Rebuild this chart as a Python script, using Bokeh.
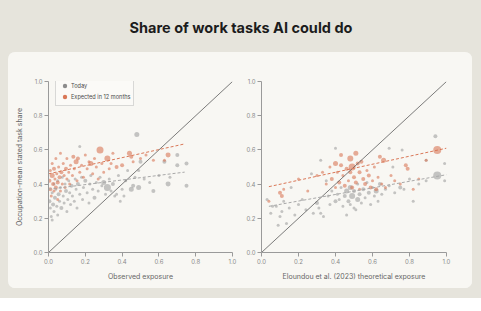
from bokeh.plotting import figure
from bokeh.layouts import row, column
from bokeh.models import (Range1d, Label, Legend, LegendItem, Spacer, FixedTicker)
from bokeh.embed import file_html
from bokeh.resources import INLINE

# ---------------------------------------------------------------- data
TITLE = "Share of work tasks AI could do"
Y_LABEL = "Occupation-mean stated task share"
X_LABEL_LEFT = "Observed exposure"
X_LABEL_RIGHT = "Eloundou et al. (2023) theoretical exposure"
SERIES = ["Today", "Expected in 12 months"]
TICKS = [0.0, 0.2, 0.4, 0.6, 0.8, 1.0]
TICK_LABELS = ["0.0", "0.2", "0.4", "0.6", "0.8", "1.0"]

# observed exposure panel: today
obs_today_x = [0.005, 0.01, 0.015, 0.02, 0.02, 0.025, 0.03, 0.03, 0.035, 0.04, 0.045, 0.05, 0.05,
               0.055, 0.06, 0.065, 0.07, 0.075, 0.08, 0.085, 0.09, 0.095, 0.10, 0.105, 0.11, 0.115,
               0.12, 0.125, 0.13, 0.14, 0.145, 0.15, 0.155, 0.16, 0.17, 0.17, 0.18, 0.185, 0.19,
               0.20, 0.21, 0.22, 0.225, 0.23, 0.24, 0.25, 0.26, 0.27, 0.28, 0.29, 0.30, 0.31, 0.32,
               0.33, 0.34, 0.35, 0.36, 0.37, 0.38, 0.39, 0.40, 0.41, 0.42, 0.43, 0.45, 0.46, 0.47,
               0.48, 0.49, 0.49, 0.50, 0.52, 0.55, 0.57, 0.60, 0.63, 0.65, 0.66, 0.70, 0.70, 0.75, 0.75]
obs_today_y = [0.30, 0.26, 0.21, 0.35, 0.19, 0.28, 0.40, 0.24, 0.32, 0.37, 0.27, 0.42, 0.22,
               0.34, 0.30, 0.38, 0.26, 0.44, 0.33, 0.29, 0.40, 0.36, 0.24, 0.31, 0.42, 0.35,
               0.28, 0.39, 0.33, 0.30, 0.43, 0.37, 0.26, 0.40, 0.34, 0.62, 0.44, 0.31, 0.38,
               0.42, 0.35, 0.29, 0.40, 0.45, 0.37, 0.32, 0.41, 0.36, 0.44, 0.39, 0.41, 0.34, 0.38,
               0.43, 0.36, 0.40, 0.33, 0.34, 0.45, 0.30, 0.37, 0.33, 0.42, 0.48, 0.37, 0.39, 0.44,
               0.69, 0.38, 0.48, 0.53, 0.43, 0.41, 0.36, 0.45, 0.53, 0.40, 0.44, 0.57, 0.51, 0.52, 0.39]
obs_today_size = [4, 3, 3, 3, 3, 4, 3, 3, 4, 3, 3, 3, 3,
                  4, 3, 3, 4, 3, 3, 3, 3, 4, 3, 3, 3, 3,
                  3, 4, 3, 3, 3, 3, 3, 4, 3, 3, 3, 3, 3,
                  4, 3, 3, 3, 3, 3, 4, 3, 3, 3, 3, 5, 3, 7,
                  3, 3, 4, 3, 3, 3, 3, 3, 3, 3, 3, 5, 4, 3,
                  5, 5, 3, 4, 3, 3, 4, 3, 4, 5, 3, 4, 4, 4, 4]

# observed exposure panel: expected in 12 months
obs_exp_x = [0.005, 0.01, 0.01, 0.015, 0.02, 0.02, 0.025, 0.03, 0.03, 0.035, 0.04, 0.04, 0.045,
             0.05, 0.05, 0.055, 0.06, 0.065, 0.065, 0.07, 0.075, 0.08, 0.085, 0.09, 0.095, 0.10,
             0.10, 0.11, 0.115, 0.12, 0.13, 0.135, 0.14, 0.15, 0.155, 0.16, 0.17, 0.18, 0.19,
             0.20, 0.21, 0.22, 0.23, 0.24, 0.25, 0.26, 0.27, 0.28, 0.29, 0.30, 0.32, 0.33, 0.34,
             0.35, 0.37, 0.40, 0.44, 0.45, 0.46, 0.50, 0.53, 0.57, 0.63, 0.65]
obs_exp_y = [0.42, 0.37, 0.48, 0.33, 0.45, 0.52, 0.40, 0.36, 0.49, 0.43, 0.55, 0.38, 0.46,
             0.41, 0.31, 0.50, 0.44, 0.58, 0.36, 0.47, 0.40, 0.52, 0.45, 0.38, 0.49, 0.43,
             0.55, 0.47, 0.40, 0.51, 0.45, 0.56, 0.49, 0.53, 0.42, 0.55, 0.47, 0.51, 0.44,
             0.57, 0.49, 0.53, 0.52, 0.46, 0.55, 0.50, 0.43, 0.60, 0.52, 0.47, 0.55, 0.49, 0.52,
             0.58, 0.50, 0.51, 0.58, 0.56, 0.53, 0.55, 0.57, 0.54, 0.54, 0.57]
obs_exp_size = [4, 4, 3, 3, 5, 3, 4, 3, 4, 3, 3, 4, 3,
                4, 3, 3, 4, 3, 3, 4, 3, 3, 3, 3, 4, 3,
                3, 3, 3, 3, 3, 4, 3, 5, 3, 4, 3, 3, 3,
                3, 3, 3, 5, 3, 3, 3, 3, 7, 3, 3, 6, 3, 3,
                3, 4, 4, 5, 4, 3, 3, 3, 3, 3, 5]

# theoretical exposure panel: today
theo_today_x = [0.03, 0.05, 0.06, 0.08, 0.09, 0.10, 0.11, 0.12, 0.135, 0.15, 0.16, 0.18, 0.20,
                0.22, 0.24, 0.27, 0.28, 0.30, 0.31, 0.32, 0.32, 0.335, 0.35, 0.36, 0.37, 0.38,
                0.40, 0.40, 0.41, 0.42, 0.43, 0.44, 0.45, 0.46, 0.46, 0.47, 0.48, 0.48, 0.49,
                0.50, 0.50, 0.51, 0.52, 0.52, 0.53, 0.54, 0.55, 0.56, 0.57, 0.58, 0.59, 0.60,
                0.61, 0.62, 0.63, 0.64, 0.65, 0.67, 0.69, 0.69, 0.71, 0.72, 0.75, 0.76, 0.77,
                0.80, 0.82, 0.85, 0.89, 0.89, 0.94, 0.95, 0.99, 0.99]
theo_today_y = [0.31, 0.23, 0.27, 0.27, 0.16, 0.21, 0.24, 0.30, 0.17, 0.26, 0.38, 0.22, 0.28,
                0.31, 0.25, 0.46, 0.23, 0.29, 0.26, 0.54, 0.23, 0.21, 0.42, 0.33, 0.28, 0.36,
                0.61, 0.30, 0.34, 0.31, 0.38, 0.27, 0.33, 0.22, 0.36, 0.30, 0.28, 0.38, 0.33,
                0.36, 0.26, 0.25, 0.31, 0.40, 0.34, 0.29, 0.37, 0.32, 0.41, 0.35, 0.28, 0.38,
                0.33, 0.36, 0.30, 0.40, 0.34, 0.37, 0.61, 0.39, 0.50, 0.35, 0.38, 0.60, 0.37,
                0.43, 0.30, 0.40, 0.54, 0.42, 0.68, 0.45, 0.52, 0.42]
theo_today_size = [3, 3, 3, 3, 3, 3, 3, 3, 3, 3, 3, 3, 3,
                   3, 3, 3, 3, 4, 3, 3, 3, 3, 3, 3, 3, 3,
                   3, 4, 3, 3, 3, 3, 4, 3, 5, 4, 3, 5, 6,
                   4, 3, 3, 5, 3, 4, 3, 4, 3, 3, 4, 3, 3,
                   3, 5, 3, 4, 3, 3, 3, 3, 3, 3, 4, 3, 3,
                   3, 3, 3, 3, 3, 4, 8, 3, 3]

# theoretical exposure panel: expected in 12 months
theo_exp_x = [0.04, 0.10, 0.11, 0.12, 0.20, 0.25, 0.30, 0.33, 0.35, 0.37, 0.38, 0.40, 0.40,
              0.41, 0.42, 0.43, 0.43, 0.44, 0.45, 0.46, 0.47, 0.48, 0.48, 0.49, 0.49, 0.50,
              0.51, 0.51, 0.52, 0.53, 0.53, 0.54, 0.55, 0.56, 0.57, 0.58, 0.59, 0.60, 0.61,
              0.62, 0.63, 0.64, 0.65, 0.66, 0.67, 0.70, 0.72, 0.75, 0.78, 0.79, 0.82, 0.85,
              0.89, 0.95]
theo_exp_y = [0.30, 0.35, 0.33, 0.37, 0.43, 0.36, 0.45, 0.47, 0.40, 0.50, 0.43, 0.52, 0.38,
              0.47, 0.41, 0.57, 0.51, 0.45, 0.39, 0.49, 0.42, 0.55, 0.47, 0.50, 0.38, 0.44,
              0.58, 0.41, 0.52, 0.47, 0.37, 0.53, 0.43, 0.40, 0.48, 0.45, 0.38, 0.42, 0.50,
              0.37, 0.44, 0.56, 0.40, 0.54, 0.38, 0.45, 0.42, 0.40, 0.51, 0.49, 0.37, 0.43,
              0.54, 0.60]
theo_exp_size = [3, 4, 4, 3, 3, 3, 3, 3, 3, 3, 4, 5, 3,
                 3, 4, 4, 4, 3, 4, 4, 3, 6, 4, 7, 4, 4,
                 5, 4, 4, 4, 3, 4, 4, 4, 3, 4, 4, 3, 3,
                 4, 3, 4, 3, 5, 3, 3, 3, 3, 4, 4, 3, 3,
                 3, 8]

# fitted trend lines (end points) and the y = x reference
obs_trend_x = [0.0, 0.74]
obs_trend_today = [0.37, 0.47]
obs_trend_exp = [0.46, 0.635]
theo_trend_x = [0.04, 1.0]
theo_trend_today = [0.27, 0.455]
theo_trend_exp = [0.385, 0.61]
diagonal = [0.0, 1.0]

# ---------------------------------------------------------------- style
PAGE_BG = "#e6e4dc"
CARD_BG = "#f8f7f3"
GREY = "#a0a0a0"
ORANGE = "#d97757"
FONT = "Inter"


def panel(width, left, right, x_label, today, expected, trend, show_ylabel):
    p = figure(width=width, height=236, output_backend="svg", toolbar_location=None,
               x_range=Range1d(0, 1), y_range=Range1d(0, 1),
               min_border_left=left, min_border_right=right,
               min_border_top=29, min_border_bottom=36,
               background_fill_color=CARD_BG, border_fill_color=CARD_BG,
               outline_line_color=None)
    p.grid.visible = False
    for ax in (p.xaxis[0], p.yaxis[0]):
        ax.ticker = FixedTicker(ticks=TICKS)
        ax.major_label_overrides = dict(zip(TICKS, TICK_LABELS))
        ax.minor_tick_line_color = None
        ax.major_tick_in = 0
        ax.major_tick_out = 4
        ax.axis_line_color = "#9a9a9a"
        ax.major_tick_line_color = "#9a9a9a"
        ax.major_label_text_font = FONT
        ax.major_label_text_font_size = "6px"
        ax.major_label_text_color = "#8a8a8a"
        ax.major_label_standoff = 2
        ax.axis_label_text_font = FONT
        ax.axis_label_text_font_size = "7px"
        ax.axis_label_text_font_style = "normal"
        ax.axis_label_text_color = "#666666"
    p.xaxis.axis_label = x_label
    p.xaxis.axis_label_standoff = 5
    if show_ylabel:
        p.yaxis.axis_label = Y_LABEL
        p.yaxis.axis_label_standoff = 6

    tx, ty, ts = today
    ex, ey, es = expected
    p.scatter(tx, ty, size=ts, marker="circle", fill_color=GREY, fill_alpha=0.6,
              line_color=None)
    p.scatter(ex, ey, size=es, marker="circle", fill_color=ORANGE, fill_alpha=0.6,
              line_color=None)

    trx, tr_today, tr_exp = trend
    p.line(diagonal, diagonal, line_color="#5a5a5a", line_width=0.8)
    p.line(trx, tr_exp, line_color=ORANGE, line_width=1, line_dash="3 2")
    p.line(trx, tr_today, line_color="#a8a8a8", line_width=1, line_dash="3 2")
    return p


left = panel(232, 40, 8, X_LABEL_LEFT,
             (obs_today_x, obs_today_y, obs_today_size),
             (obs_exp_x, obs_exp_y, obs_exp_size),
             (obs_trend_x, obs_trend_today, obs_trend_exp), True)
right = panel(232, 21, 26, X_LABEL_RIGHT,
              (theo_today_x, theo_today_y, theo_today_size),
              (theo_exp_x, theo_exp_y, theo_exp_size),
              (theo_trend_x, theo_trend_today, theo_trend_exp), False)

# legend swatches: renderers holding a single missing point, so only the key shows
nan = float("nan")
key_today = left.scatter(x=[nan], y=[nan], size=5, marker="circle",
                         fill_color="#8c8c8c", line_color=None)
key_exp = left.scatter(x=[nan], y=[nan], size=5, marker="circle",
                       fill_color=ORANGE, line_color=None)
legend = Legend(items=[LegendItem(label=SERIES[0], renderers=[key_today]),
                       LegendItem(label=SERIES[1], renderers=[key_exp])],
                location=(7, 146), orientation="vertical",
                label_text_font=FONT, label_text_font_size="5.6px",
                label_text_color="#4a4a4a", label_height=7, label_standoff=1,
                glyph_width=11, glyph_height=11, spacing=0, padding=3, margin=0,
                border_line_color="#b5b5b5", border_line_width=0.8,
                background_fill_color="#fbfaf7", background_fill_alpha=1)
left.add_layout(legend)

# header with the title
header = figure(width=481, height=52, output_backend="svg", toolbar_location=None,
                x_range=Range1d(0, 481), y_range=Range1d(0, 52),
                x_axis_type=None, y_axis_type=None, min_border=0,
                background_fill_color=PAGE_BG, border_fill_color=PAGE_BG,
                outline_line_color=None)
header.grid.visible = False
header.add_layout(Label(x=240.5, y=25, text=TITLE, text_align="center",
                        text_baseline="middle", text_font=FONT,
                        text_font_size="14.5px", text_font_style="bold",
                        text_color="#1c1c1c"))

card = row(left, right, styles={"border-radius": "7px", "overflow": "hidden",
                                "background-color": CARD_BG})
middle = row(Spacer(width=8, height=236), card, Spacer(width=9, height=236),
             styles={"background-color": PAGE_BG})
footer = column(Spacer(width=481, height=10, styles={"background-color": PAGE_BG}),
                Spacer(width=481, height=13, styles={"background-color": "#ffffff"}))

page = column(header, middle, footer, styles={"background-color": PAGE_BG})

open("out.html", "w").write(file_html(page, INLINE))
